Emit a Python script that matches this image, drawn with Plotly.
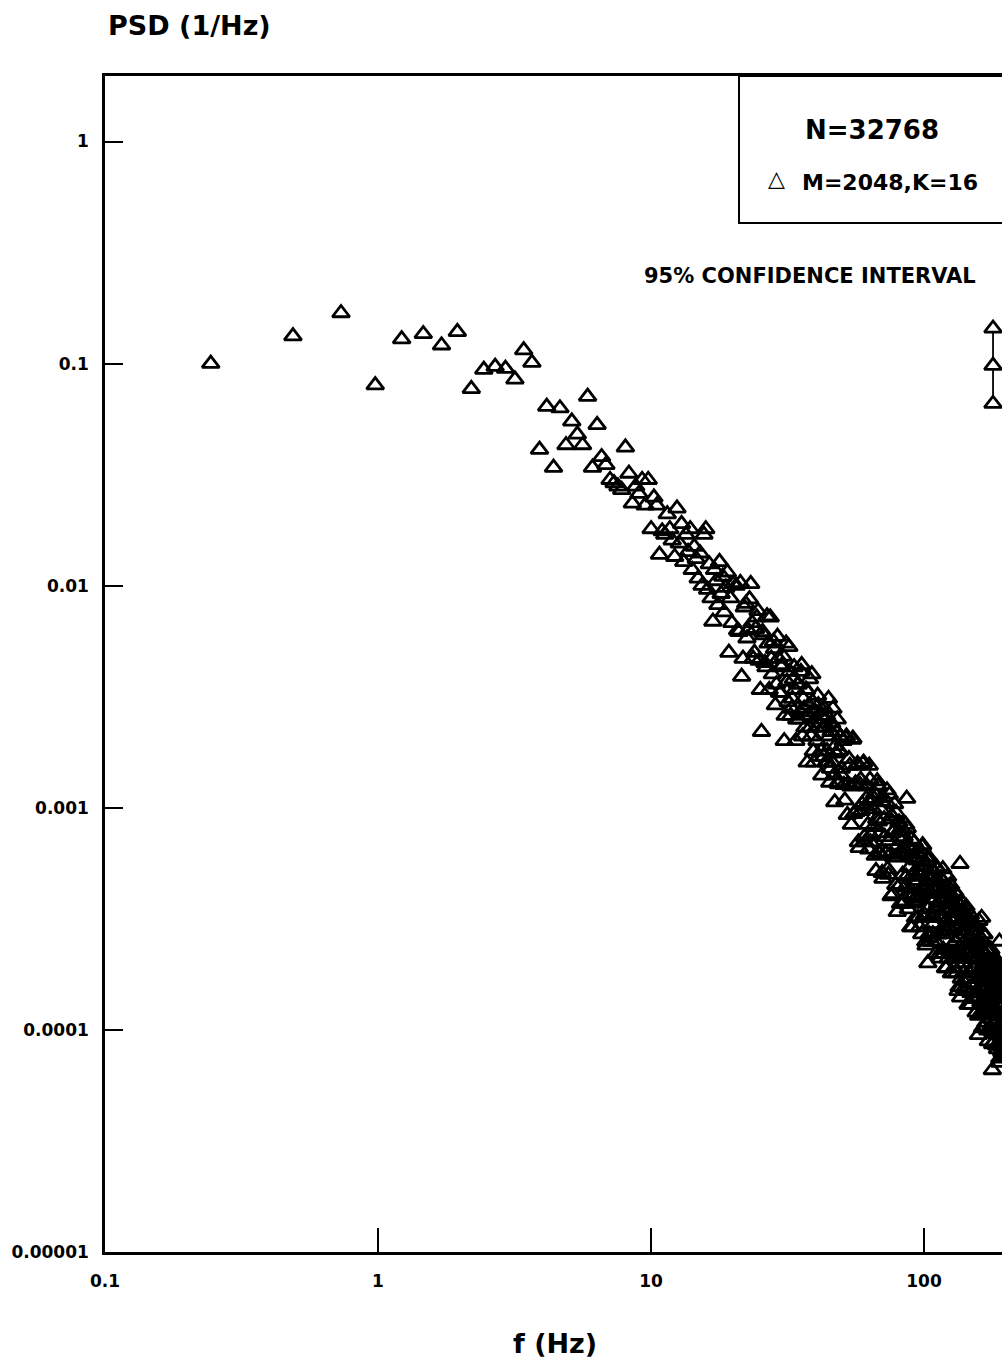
import plotly.graph_objects as go

# ---------------- data ----------------
freq_low = [0.244, 0.488, 0.732, 0.977, 1.221, 1.465, 1.709, 1.953, 2.197, 2.441,
            2.686, 2.930, 3.174, 3.418, 3.662, 3.906, 4.150, 4.395, 4.639, 4.883,
            5.127, 5.371, 5.615, 5.859, 6.104, 6.348, 6.592, 6.836, 7.080, 7.324,
            7.568, 7.813, 8.057, 8.301, 8.545, 8.789, 9.033, 9.277, 9.521, 9.766,
            10.01, 10.25, 10.50, 10.74, 10.99, 11.23, 11.47, 11.72, 11.96, 12.21,
            12.45, 12.70]
psd_low = [0.100, 0.133, 0.169, 0.080, 0.129, 0.136, 0.121, 0.139, 0.077, 0.094,
           0.097, 0.095, 0.085, 0.115, 0.101, 0.041, 0.064, 0.034, 0.063, 0.043,
           0.055, 0.048, 0.043, 0.071, 0.034, 0.053, 0.038, 0.035, 0.030, 0.029,
           0.028, 0.027, 0.042, 0.032, 0.0235, 0.028, 0.026, 0.030, 0.023, 0.030,
           0.018, 0.025, 0.023, 0.0138, 0.0176, 0.017, 0.021, 0.018, 0.016, 0.0135,
           0.0223, 0.0155]

freq_mid = [12.94, 13.18, 13.43, 13.67, 13.92, 14.16, 14.40, 14.65, 14.89, 15.14,
            15.38, 15.63, 15.87, 16.11, 16.36, 16.60, 16.85, 17.09, 17.33, 17.58,
            17.82, 18.07, 18.31, 18.55, 18.80, 19.04, 19.29, 19.53, 19.78, 20.02,
            20.51, 21.00, 21.48, 21.97, 22.46, 22.95, 23.44, 23.93, 24.41, 24.90,
            25.39, 25.88, 26.37, 26.86, 27.34, 27.83, 28.32, 28.81, 29.30, 29.79,
            30.27, 30.76, 31.25, 31.74, 32.23, 32.71, 33.20, 33.69, 34.18, 34.67,
            35.16, 35.64, 36.13, 36.62, 37.11, 37.60, 38.09, 38.57, 39.06, 39.55,
            40.04, 40.53, 41.02, 41.50, 41.99, 42.48, 42.97, 43.46, 43.95, 44.43,
            44.92, 45.41, 45.90, 46.39, 46.88, 47.36, 47.85, 48.34, 48.83, 49.32,
            49.80]
psd_mid = [0.0190, 0.0128, 0.0170, 0.0142, 0.0180, 0.0118, 0.0150, 0.0132, 0.0108, 0.0140,
           0.0100, 0.0170, 0.0180, 0.0096, 0.0125, 0.0088, 0.0069, 0.0118, 0.0105, 0.0082,
           0.0128, 0.0092, 0.0110, 0.0076, 0.0098, 0.0115, 0.0050, 0.0088, 0.0068, 0.0102,
           0.0100, 0.0062, 0.0039, 0.0080, 0.0058, 0.0087, 0.0068, 0.0050, 0.0072, 0.0046,
           0.0022, 0.0060, 0.0043, 0.0055, 0.0072, 0.0040, 0.0052, 0.0036, 0.0047, 0.0033,
           0.0044, 0.0020, 0.0055, 0.0030, 0.0041, 0.0028, 0.0038, 0.0034, 0.0025, 0.0036,
           0.0027, 0.0044, 0.0031, 0.0023, 0.0034, 0.0026, 0.0038, 0.0021, 0.0030, 0.0016,
           0.0027, 0.0020, 0.0029, 0.0024, 0.0018, 0.0026, 0.0017, 0.0023, 0.0026, 0.0016,
           0.0021, 0.0015, 0.0024, 0.0028, 0.0014, 0.0019, 0.0022, 0.0013, 0.0018, 0.0021,
           0.0015]

freq_mid2 = [20.75, 21.24, 21.73, 22.22, 22.71, 23.19, 23.68, 24.17, 24.66, 25.15,
             25.63, 26.12, 26.61, 27.10, 27.59, 28.08, 28.56, 29.05, 29.54, 30.03,
             30.52, 31.01, 31.49, 31.98, 32.47, 32.96, 33.45, 33.94, 34.42, 34.91,
             35.40, 35.89, 36.38, 36.87, 37.35, 37.84, 38.33, 38.82, 39.31, 39.79,
             40.28, 40.77, 41.26, 41.75, 42.24, 42.72, 43.21, 43.70, 44.19, 44.68,
             45.17, 45.65, 46.14, 46.63, 47.12, 47.61, 48.10, 48.58, 49.07, 49.56]
psd_mid2 = [0.0063, 0.0103, 0.0047, 0.0083, 0.0063, 0.0102, 0.0047, 0.0064, 0.0077, 0.0034,
            0.0062, 0.0045, 0.0073, 0.0034, 0.0047, 0.0056, 0.0029, 0.0059, 0.0033, 0.0043,
            0.0048, 0.0026, 0.0037, 0.0053, 0.0026, 0.0031, 0.0043, 0.0020, 0.0036, 0.0025,
            0.0041, 0.0021, 0.0028, 0.0034, 0.0016, 0.0029, 0.0023, 0.0040, 0.0018, 0.0025,
            0.0023, 0.0032, 0.0017, 0.0026, 0.0014, 0.0023, 0.0028, 0.0016, 0.0018, 0.0031,
            0.0013, 0.0022, 0.0016, 0.0023, 0.00106, 0.00176, 0.0025, 0.00128, 0.00181, 0.00141]

freq_high = [50.5, 51.3, 52.0, 52.7, 53.5, 54.2, 54.9, 55.7, 56.4, 57.1,
             57.9, 58.6, 59.3, 60.1, 60.8, 61.5, 62.3, 63.0, 63.7, 64.5,
             65.2, 65.9, 66.7, 67.4, 68.1, 68.9, 69.6, 70.3, 71.0, 71.8,
             72.5, 73.2, 74.0, 74.7, 75.4, 76.2, 76.9, 77.6, 78.4, 79.1,
             79.8, 80.6, 81.3, 82.0, 82.8, 83.5, 84.2, 85.0, 85.7, 86.4,
             87.2, 87.9, 88.6, 89.4, 90.1, 90.8, 91.6, 92.3, 93.0, 93.8,
             94.5, 95.2, 96.0, 96.7, 97.4, 98.1, 98.9, 99.6, 100.3, 101.1,
             101.8, 102.5, 103.3, 104.0, 104.7, 105.5, 106.2, 106.9, 107.7, 108.4,
             109.1, 109.9, 110.6, 111.3, 112.1, 112.8, 113.5, 114.3, 115.0, 115.7,
             116.5, 117.2, 117.9, 118.7, 119.4, 120.1, 120.9, 121.6, 122.3, 123.0,
             123.8, 124.5, 125.2, 126.0, 126.7, 127.4, 128.2, 128.9, 129.6, 130.4,
             131.1, 131.8, 132.6, 133.3, 134.0, 134.8, 135.5, 136.2, 137.0, 137.7,
             138.4, 139.2, 139.9, 140.6, 141.4, 142.1, 142.8, 143.6, 144.3, 145.0,
             145.8, 146.5, 147.2, 148.0, 148.7, 149.4, 150.2, 150.9, 151.6, 152.3,
             153.1, 153.8, 154.5, 155.3, 156.0, 156.7, 157.5, 158.2, 158.9, 159.7,
             160.4, 161.1, 161.9, 162.6, 163.3, 164.1, 164.8, 165.5, 166.3, 167.0,
             167.7, 168.5, 169.2, 169.9, 170.7, 171.4, 172.1, 172.9, 173.6, 174.3,
             175.1, 175.8, 176.5, 177.3, 178.0, 178.7, 179.4, 180.2, 180.9, 181.6,
             182.4, 183.1, 183.8, 184.6, 185.3, 186.0, 186.8, 187.5, 188.2, 189.0,
             189.7, 190.4, 191.2, 191.9, 192.6, 193.4, 194.1, 194.8, 195.6, 196.3,
             197.0, 197.8, 198.5, 199.2, 200.0]
psd_high = [0.0020, 0.00108, 0.0021, 0.00128, 0.00155, 0.00084, 0.00205, 0.00126, 0.00096, 0.00158,
            0.00066, 0.00134, 0.00104, 0.00160, 0.00070, 0.00110, 0.00084, 0.00155, 0.00070, 0.00107,
            0.00082, 0.00116, 0.00052, 0.00132, 0.00087, 0.00062, 0.00098, 0.00051, 0.00111, 0.00074,
            0.00062, 0.00120, 0.00050, 0.00115, 0.00062, 0.00092, 0.00041, 0.00079, 0.00060, 0.00095,
            0.00034, 0.00078, 0.00062, 0.00037, 0.00081, 0.00050, 0.00066, 0.00038, 0.00084, 0.00110,
            0.00041, 0.00067, 0.00054, 0.00029, 0.00072, 0.00040, 0.00059, 0.00047, 0.00032, 0.00063,
            0.00058, 0.00032, 0.00065, 0.00039, 0.00049, 0.00027, 0.00068, 0.00043, 0.00033, 0.00057,
            0.00024, 0.00049, 0.00020, 0.00060, 0.00026, 0.00042, 0.00032, 0.00053, 0.00027, 0.00043,
            0.00032, 0.00047, 0.00022, 0.00054, 0.00037, 0.00027, 0.00041, 0.00022, 0.00048, 0.00032,
            0.00027, 0.00053, 0.00022, 0.00035, 0.00028, 0.00043, 0.00019, 0.00037, 0.00029, 0.00044,
            0.00022, 0.00037, 0.00045, 0.00018, 0.00040, 0.00024, 0.00032, 0.00019, 0.00042, 0.00025,
            0.00021, 0.00035, 0.00029, 0.00015, 0.00037, 0.00021, 0.00056, 0.00014, 0.00017, 0.00034,
            0.00028, 0.00018, 0.00034, 0.00020, 0.00025, 0.00015, 0.00035, 0.00022, 0.00026, 0.00013,
            0.00030, 0.00017, 0.00021, 0.00033, 0.00013, 0.00024, 0.00019, 0.00030, 0.00014, 0.00025,
            0.00030, 0.00019, 0.00024, 0.00012, 0.00025, 0.00017, 0.00021, 0.000095, 0.00031, 0.000155,
            0.00018, 0.00026, 0.000118, 0.00032, 0.000135, 0.000184, 0.00027, 0.000103, 0.00022, 0.000151,
            0.00022, 0.000108, 0.000158, 0.000194, 0.00013, 0.00023, 0.000089, 0.000164, 0.000197, 0.000119,
            0.000142, 0.00023, 0.00010, 0.000168, 0.000066, 0.000197, 0.000088, 0.000144, 0.000174, 0.0000994,
            0.000171, 0.0000959, 0.000194, 0.000117, 0.000147, 0.000082, 0.000202, 0.000127, 0.0000995, 0.00025,
            0.0000713, 0.000146, 0.000115, 0.00018, 0.0000797, 0.000127, 0.00015, 0.000085, 0.00013, 0.000098,
            0.00017, 0.000075, 0.000118, 0.00014, 0.00009]

freq_high2 = [50.9, 51.7, 52.4, 53.1, 53.9, 54.6, 55.3, 56.1, 56.8, 57.5,
              58.3, 59.0, 59.7, 60.5, 61.2, 61.9, 62.7, 63.4, 64.1, 64.9,
              65.6, 66.3, 67.1, 67.8, 68.5, 69.3, 70.0, 70.7, 71.4, 72.2,
              72.9, 73.6, 74.4, 75.1, 75.8, 76.6, 77.3, 78.0, 78.8, 79.5,
              80.2, 81.0, 81.7, 82.4, 83.2, 83.9, 84.6, 85.4, 86.1, 86.8,
              87.6, 88.3, 89.0, 89.8, 90.5, 91.2, 92.0, 92.7, 93.4, 94.2,
              94.9, 95.6, 96.4, 97.1, 97.8, 98.5, 99.3, 100.0, 100.7, 101.5,
              102.2, 102.9, 103.7, 104.4, 105.1, 105.9, 106.6, 107.3, 108.1, 108.8,
              109.5, 110.3, 111.0, 111.7, 112.5, 113.2, 113.9, 114.7, 115.4, 116.1,
              116.9, 117.6, 118.3, 119.1, 119.8, 120.5, 121.3, 122.0, 122.7, 123.4,
              124.2, 124.9, 125.6, 126.4, 127.1, 127.8, 128.6, 129.3, 130.0, 130.8,
              131.5, 132.2, 133.0, 133.7, 134.4, 135.2, 135.9, 136.6, 137.4, 138.1,
              138.8, 139.6, 140.3, 141.0, 141.8, 142.5, 143.2, 144.0, 144.7, 145.4,
              146.2, 146.9, 147.6, 148.4, 149.1, 149.8, 150.6, 151.3, 152.0, 152.7,
              153.5, 154.2, 154.9, 155.7, 156.4, 157.1, 157.9, 158.6, 159.3, 160.1,
              160.8, 161.5, 162.3, 163.0, 163.7, 164.5, 165.2, 165.9, 166.7, 167.4,
              168.1, 168.9, 169.6, 170.3, 171.1, 171.8, 172.5, 173.3, 174.0, 174.7,
              175.5, 176.2, 176.9, 177.7, 178.4, 179.1, 179.8, 180.6, 181.3, 182.0,
              182.8, 183.5, 184.2, 185.0, 185.7, 186.4, 187.2, 187.9, 188.6, 189.4,
              190.1, 190.8, 191.6, 192.3, 193.0, 193.8, 194.5, 195.2, 196.0, 196.7,
              197.4, 198.2, 198.9, 199.6]
psd_high2 = [0.00127, 0.00206, 0.00093, 0.00166, 0.00125, 0.00203, 0.00094, 0.00129, 0.00155, 0.00070,
             0.00127, 0.00097, 0.00158, 0.00074, 0.00102, 0.00125, 0.00065, 0.00134, 0.00075, 0.00099,
             0.00110, 0.00061, 0.00089, 0.00126, 0.00063, 0.00077, 0.00107, 0.00048, 0.00089, 0.00063,
             0.00106, 0.00053, 0.00071, 0.00089, 0.00040, 0.00077, 0.00060, 0.00104, 0.00045, 0.00067,
             0.00060, 0.00086, 0.00045, 0.00071, 0.00037, 0.00062, 0.00074, 0.00044, 0.00049, 0.00081,
             0.00035, 0.00060, 0.00043, 0.00065, 0.00029, 0.00050, 0.00070, 0.00037, 0.00052, 0.00040,
             0.00038, 0.00062, 0.00029, 0.00052, 0.00040, 0.00067, 0.00032, 0.00045, 0.00055, 0.00025,
             0.00046, 0.00035, 0.00058, 0.00027, 0.00039, 0.00047, 0.00025, 0.00052, 0.00030, 0.00039,
             0.00044, 0.00025, 0.00036, 0.00053, 0.00027, 0.00032, 0.00046, 0.00021, 0.00038, 0.00028,
             0.00047, 0.00023, 0.00032, 0.00041, 0.00019, 0.00035, 0.00028, 0.00049, 0.00021, 0.00032,
             0.00029, 0.00041, 0.00022, 0.00035, 0.00018, 0.00031, 0.00037, 0.00022, 0.00025, 0.00041,
             0.00018, 0.00032, 0.00022, 0.00034, 0.000156, 0.00026, 0.00036, 0.00019, 0.00028, 0.00021,
             0.00020, 0.00033, 0.000154, 0.00027, 0.00021, 0.00036, 0.00017, 0.00023, 0.00029, 0.00013,
             0.00025, 0.00018, 0.00031, 0.000147, 0.00021, 0.00026, 0.000139, 0.00028, 0.00016, 0.00022,
             0.00024, 0.000138, 0.00021, 0.00029, 0.000146, 0.00018, 0.000255, 0.000116, 0.00022, 0.000156,
             0.00026, 0.000133, 0.00018, 0.000226, 0.000102, 0.000197, 0.000155, 0.00027, 0.000119, 0.000176,
             0.000158, 0.00023, 0.000122, 0.000192, 0.0000995, 0.000171, 0.000205, 0.000123, 0.000138, 0.00023,
             0.000102, 0.000173, 0.000126, 0.000187, 0.0000864, 0.000145, 0.000204, 0.000108, 0.000153, 0.000121,
             0.000111, 0.000184, 0.0000851, 0.000156, 0.00012, 0.00020, 0.0000947, 0.000132, 0.000163, 0.0000744,
             0.000138, 0.000106, 0.000177, 0.000084, 0.000118, 0.000146, 0.0000772, 0.000162, 0.000092, 0.000123,
             0.000138, 0.000078, 0.000116, 0.00017]

# 95% confidence interval glyph (upper, centre, lower)
ci_freq = [179, 179, 179]
ci_psd = [0.144, 0.098, 0.066]

x_tickvals = [0.1, 1, 10, 100]
x_ticktext = ["0.1", "1", "10", "100"]
y_tickvals = [1, 0.1, 0.01, 0.001, 0.0001, 0.00001]
y_ticktext = ["1", "0.1", "0.01", "0.001", "0.0001", "0.00001"]

# ---------------- layout helpers ----------------
W, H = 1002, 1360
ML, MR, MT, MB = 105, 0, 76, 108
FONT = "DejaVu Sans"


def px(x):
    return (x - ML) / (W - ML - MR)


def py(y):
    return (H - MB - y) / (H - MT - MB)


def pair(f, p):
    m = min(len(f), len(p))
    return list(f[:m]), list(p[:m])


freqs, psds = [], []
for f, p in [(freq_low, psd_low), (freq_mid, psd_mid), (freq_mid2, psd_mid2),
             (freq_high, psd_high), (freq_high2, psd_high2)]:
    a, b = pair(f, p)
    freqs += a
    psds += b

fig = go.Figure()
fig.add_trace(go.Scatter(
    x=freqs, y=psds, mode="markers",
    marker=dict(symbol="triangle-up-open", size=15, color="black",
                line=dict(width=2.8, color="black")),
    showlegend=False))
fig.add_trace(go.Scatter(
    x=ci_freq, y=ci_psd, mode="lines+markers",
    line=dict(color="black", width=1.8),
    marker=dict(symbol="triangle-up", size=15, color="white",
                line=dict(width=2.8, color="black")),
    showlegend=False))

tickfont = dict(family=FONT, size=17, color="black", weight="bold")
fig.update_xaxes(type="log", range=[-1, 2.2857], tickmode="array",
                 tickvals=x_tickvals, ticktext=x_ticktext,
                 ticks="inside", ticklen=24, tickwidth=1.5, tickcolor="black",
                 showline=True, linewidth=2.5, linecolor="black", mirror=True,
                 showgrid=False, zeroline=False, tickfont=tickfont,
                 ticklabelstandoff=12)
fig.update_yaxes(type="log", range=[-5, 0.295], tickmode="array",
                 tickvals=y_tickvals, ticktext=y_ticktext,
                 ticks="inside", ticklen=18, tickwidth=1.5, tickcolor="black",
                 showline=True, linewidth=2.5, linecolor="black", mirror=False,
                 showgrid=False, zeroline=False, tickfont=tickfont,
                 ticklabelstandoff=10)


def note(text, x, y, size, xanchor="center", weight="bold"):
    fig.add_annotation(text=text, x=px(x), y=py(y), xref="paper", yref="paper",
                       xanchor=xanchor, yanchor="middle", showarrow=False,
                       font=dict(family=FONT, size=size, color="black", weight=weight))


note("PSD (1/Hz)", 106, 26, 27, xanchor="left")
note("f (Hz)", 555, 1343, 27)
note("N=32768", 872, 130, 26)
note("△", 776, 179, 22, weight="normal")
note("M=2048,K=16", 800, 183, 22, xanchor="left")
note("95% CONFIDENCE INTERVAL", 810, 276, 21)

fig.add_shape(type="rect", xref="paper", yref="paper",
              x0=px(739), x1=px(1030), y0=py(223), y1=py(MT),
              line=dict(color="black", width=2))

fig.update_layout(width=W, height=H,
                  margin=dict(l=ML, r=MR, t=MT, b=MB, pad=0),
                  plot_bgcolor="white", paper_bgcolor="white")

fig.write_html("out.html", config={"displayModeBar": False},
               post_script="document.body.style.margin='0';"
                           "document.body.style.overflow='hidden';")
